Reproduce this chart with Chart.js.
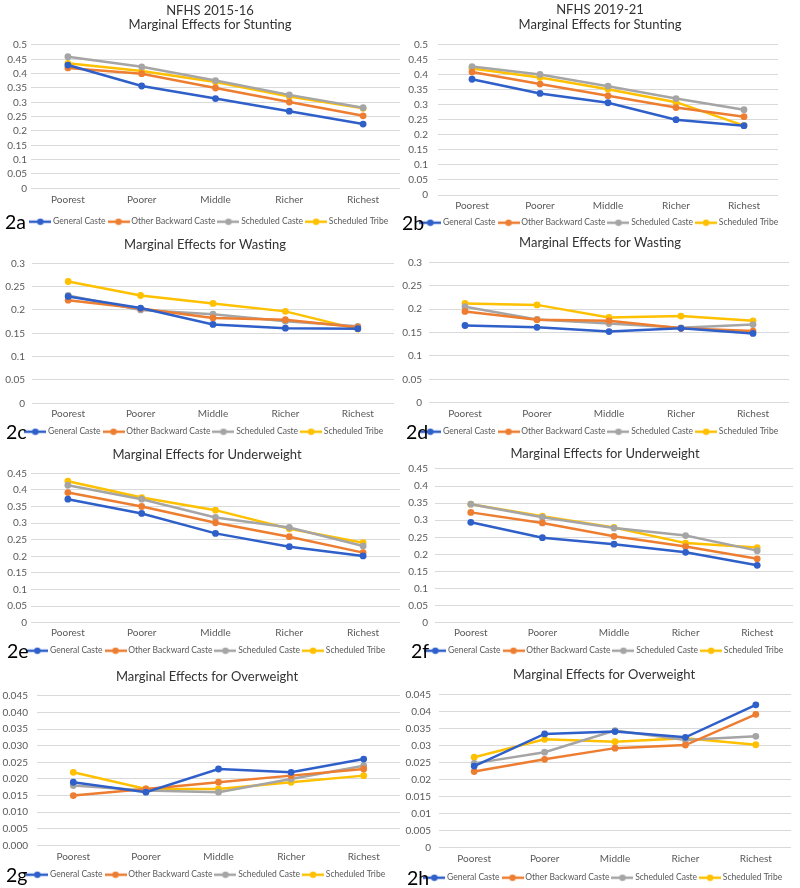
<!DOCTYPE html>
<html>
<head>
<meta charset="utf-8">
<script src="https://cdn.jsdelivr.net/npm/chart.js@4.4.1/dist/chart.umd.min.js"></script>
<style>
  body { margin: 0; background: #fff; }
  #page { position: relative; width: 800px; height: 888px; overflow: hidden; background: #fff; }
  #page canvas { position: absolute; }
  .tag { position: absolute; font: 19.5px Lato, "Open Sans", sans-serif; color: #000; line-height: 24px; }
</style>
</head>
<body>
<div id="page"></div>
<script>
const categories = ["Poorest", "Poorer", "Middle", "Richer", "Richest"];
const casteGroups = ["General Caste", "Other Backward Caste", "Scheduled Caste", "Scheduled Tribe"];
const casteColors = ["#2f5fc8", "#ed7d31", "#a5a5a5", "#ffc000"];

// each table: one row per caste group, in the order of casteGroups
const stunting2016 = [
    [0.430, 0.357, 0.313, 0.269, 0.224],
    [0.420, 0.400, 0.350, 0.301, 0.253],
    [0.459, 0.424, 0.376, 0.326, 0.281],
    [0.436, 0.409, 0.371, 0.320, 0.279]
];
const stunting2021 = [
    [0.384, 0.337, 0.306, 0.250, 0.230],
    [0.408, 0.368, 0.329, 0.290, 0.260],
    [0.426, 0.400, 0.361, 0.320, 0.283],
    [0.420, 0.390, 0.351, 0.308, 0.230]
];
const wasting2016 = [
    [0.229, 0.204, 0.169, 0.161, 0.160],
    [0.221, 0.203, 0.183, 0.179, 0.163],
    [0.231, 0.200, 0.191, 0.176, 0.165],
    [0.261, 0.231, 0.214, 0.197, 0.159]
];
const wasting2021 = [
    [0.165, 0.161, 0.152, 0.159, 0.148],
    [0.195, 0.177, 0.175, 0.159, 0.153],
    [0.205, 0.178, 0.169, 0.160, 0.167],
    [0.212, 0.209, 0.182, 0.185, 0.175]
];
const underweight2016 = [
    [0.372, 0.329, 0.269, 0.229, 0.201],
    [0.392, 0.350, 0.301, 0.259, 0.211],
    [0.414, 0.372, 0.317, 0.287, 0.231],
    [0.426, 0.377, 0.339, 0.283, 0.241]
];
const underweight2021 = [
    [0.294, 0.249, 0.230, 0.206, 0.168],
    [0.323, 0.292, 0.253, 0.223, 0.187],
    [0.347, 0.309, 0.277, 0.255, 0.211],
    [0.347, 0.312, 0.279, 0.233, 0.220]
];
const overweight2016 = [
    [0.0190, 0.0160, 0.0230, 0.0220, 0.0260],
    [0.0150, 0.0170, 0.0190, 0.0210, 0.0230],
    [0.0180, 0.0165, 0.0160, 0.0200, 0.0240],
    [0.0220, 0.0170, 0.0170, 0.0190, 0.0210]
];
const overweight2021 = [
    [0.0240, 0.0335, 0.0342, 0.0325, 0.0421],
    [0.0224, 0.0260, 0.0293, 0.0302, 0.0393],
    [0.0248, 0.0281, 0.0345, 0.0317, 0.0328],
    [0.0266, 0.0319, 0.0312, 0.0322, 0.0303]
];

// y axis: [max, step, decimals (null = general format)]
const stuntingAxis = [0.5, 0.05, null];
const wastingAxis = [0.3, 0.05, null];
const underweightAxis = [0.45, 0.05, null];
const overweightAxis2016 = [0.045, 0.005, 3];
const overweightAxis2021 = [0.045, 0.005, null];

// page layout of each panel (pixel positions)
const panels = [
    { tag: "2a", rows: stunting2016, axis: stuntingAxis, title: ["NFHS 2015-16", "Marginal Effects for Stunting"],
      col: 0, top: 0, titleY: 10.5, area: [31, 45, 400, 188.3], catY: 199.3, legendY: 222, midX: 210, labelEnd: 27, tagX: 5 },
    { tag: "2b", rows: stunting2021, axis: stuntingAxis, title: ["NFHS 2019-21", "Marginal Effects for Stunting"],
      col: 400, top: 0, titleY: 10, area: [438, 44.3, 778, 195], catY: 205.7, legendY: 222.7, midX: 600, labelEnd: 428, tagX: 402 },
    { tag: "2c", rows: wasting2016, axis: wastingAxis, title: ["Marginal Effects for Wasting"],
      col: 0, top: 234, titleY: 245, area: [32, 263.3, 394, 403.3], catY: 414, legendY: 431.7, midX: 205, labelEnd: 25, tagX: 6 },
    { tag: "2d", rows: wasting2021, axis: wastingAxis, title: ["Marginal Effects for Wasting"],
      col: 400, top: 234, titleY: 243.3, area: [429, 262.3, 789, 402.7], catY: 413.3, legendY: 431.7, midX: 600, labelEnd: 422, tagX: 406 },
    { tag: "2e", rows: underweight2016, axis: underweightAxis, title: ["Marginal Effects for Underweight"],
      col: 0, top: 444, titleY: 455, area: [31, 473.3, 400, 622.7], catY: 632.7, legendY: 650.7, midX: 207, labelEnd: 27, tagX: 7 },
    { tag: "2f", rows: underweight2021, axis: underweightAxis, title: ["Marginal Effects for Underweight"],
      col: 400, top: 444, titleY: 454, area: [435, 469, 793, 622.7], catY: 632.7, legendY: 650.7, midX: 605, labelEnd: 428, tagX: 411 },
    { tag: "2g", rows: overweight2016, axis: overweightAxis2016, title: ["Marginal Effects for Overweight"],
      col: 0, top: 664, titleY: 676.7, area: [37, 696, 400, 845.3], catY: 856.7, legendY: 875, midX: 207, labelEnd: 28, tagX: 6 },
    { tag: "2h", rows: overweight2021, axis: overweightAxis2021, title: ["Marginal Effects for Overweight"],
      col: 400, top: 664, titleY: 675, area: [439, 695, 791, 847.3], catY: 859, legendY: 877.7, midX: 604, labelEnd: 431, tagX: 407 }
];

const FONT = "Lato, 'Open Sans', sans-serif";
const TICK_COLOR = "#595959";
const TITLE_SIZE = 13, TITLE_LH = 14.8;
const LEGEND_SIZE = 8.5, LEGEND_PAD = 4.5;

// little "line with a dot" symbol used in the legend, like Excel draws it
function legendSymbol(color) {
    const c = document.createElement("canvas");
    c.width = 22; c.height = 8;
    const g = c.getContext("2d");
    g.strokeStyle = color; g.lineWidth = 2.5;
    g.beginPath(); g.moveTo(0, 4); g.lineTo(22, 4); g.stroke();
    g.fillStyle = color;
    g.beginPath(); g.arc(11, 4, 3.2, 0, Math.PI * 2); g.fill();
    return c;
}
const symbols = casteColors.map(legendSymbol);

function formatTick(v, decimals) {
    if (decimals !== null) return v.toFixed(decimals);
    return String(parseFloat(v.toFixed(4)));
}

const page = document.getElementById("page");

panels.forEach(p => {
    const [cl, ct, cr, cb] = p.area;
    // title + legend are centred on [boxLeft, boxRight]; an empty right axis pads the plot
    const boxLeft = p.col + 2;
    const boxRight = 2 * p.midX - boxLeft;
    const canvasW = boxRight - p.col;
    const canvasH = Math.round(p.legendY + 10 + LEGEND_SIZE / 2 - p.top);
    const legendTop = p.top + canvasH - (LEGEND_SIZE + LEGEND_PAD + 10);
    const titlePadTop = p.titleY - p.top - TITLE_LH / 2;
    const titlePadBottom = ct - p.top - titlePadTop - p.title.length * TITLE_LH;

    const canvas = document.createElement("canvas");
    canvas.width = canvasW; canvas.height = canvasH;
    canvas.style.left = p.col + "px";
    canvas.style.top = p.top + "px";
    page.appendChild(canvas);

    const datasets = p.rows.map((vals, i) => ({
        label: casteGroups[i],
        data: vals,
        borderColor: casteColors[i],
        backgroundColor: casteColors[i],
        borderWidth: 2.5,
        pointRadius: 3.4,
        pointBorderWidth: 0,
        pointHoverRadius: 3.4,
        tension: 0
    }));

    new Chart(canvas, {
        type: "line",
        data: { labels: categories, datasets },
        options: {
            responsive: false,
            animation: false,
            devicePixelRatio: 1,
            events: [],
            layout: { padding: { left: 2, right: 0, top: 0, bottom: 0 } },
            plugins: {
                title: {
                    display: true,
                    text: p.title,
                    color: "#333333",
                    font: { family: FONT, size: TITLE_SIZE, weight: "normal", lineHeight: TITLE_LH / TITLE_SIZE },
                    padding: { top: titlePadTop, bottom: titlePadBottom }
                },
                legend: {
                    position: "bottom",
                    labels: {
                        usePointStyle: true,
                        pointStyleWidth: 17,
                        padding: LEGEND_PAD,
                        color: TICK_COLOR,
                        font: { family: FONT, size: LEGEND_SIZE },
                        generateLabels: chart => Chart.defaults.plugins.legend.labels.generateLabels(chart)
                            .map((item, i) => Object.assign(item, { pointStyle: symbols[i], rotation: 0 }))
                    }
                },
                tooltip: { enabled: false }
            },
            scales: {
                x: {
                    offset: true,
                    grid: { display: false, drawTicks: false },
                    border: { display: false },
                    ticks: { autoSkip: false, maxRotation: 0, color: TICK_COLOR, font: { family: FONT, size: 10 }, padding: p.catY - cb - 6 },
                    afterFit: s => { s.height = legendTop - cb; }
                },
                y: {
                    min: 0,
                    max: p.axis[0],
                    grid: { color: "#d9d9d9", lineWidth: 1, drawTicks: false },
                    border: { display: false },
                    ticks: {
                        autoSkip: false,
                        stepSize: p.axis[1],
                        color: TICK_COLOR,
                        font: { family: FONT, size: 10 },
                        padding: cl - p.labelEnd,
                        callback: v => formatTick(v, p.axis[2])
                    },
                    afterFit: s => { s.width = cl - boxLeft; }
                },
                pad: {
                    type: "linear",
                    position: "right",
                    grid: { display: false, drawTicks: false },
                    border: { display: false },
                    ticks: { display: false },
                    afterFit: s => { s.width = boxRight - cr; }
                }
            }
        }
    });

    const tag = document.createElement("div");
    tag.className = "tag";
    tag.textContent = p.tag;
    tag.style.left = p.tagX + "px";
    tag.style.top = (p.legendY - 12) + "px";
    page.appendChild(tag);
});
</script>
</body>
</html>
